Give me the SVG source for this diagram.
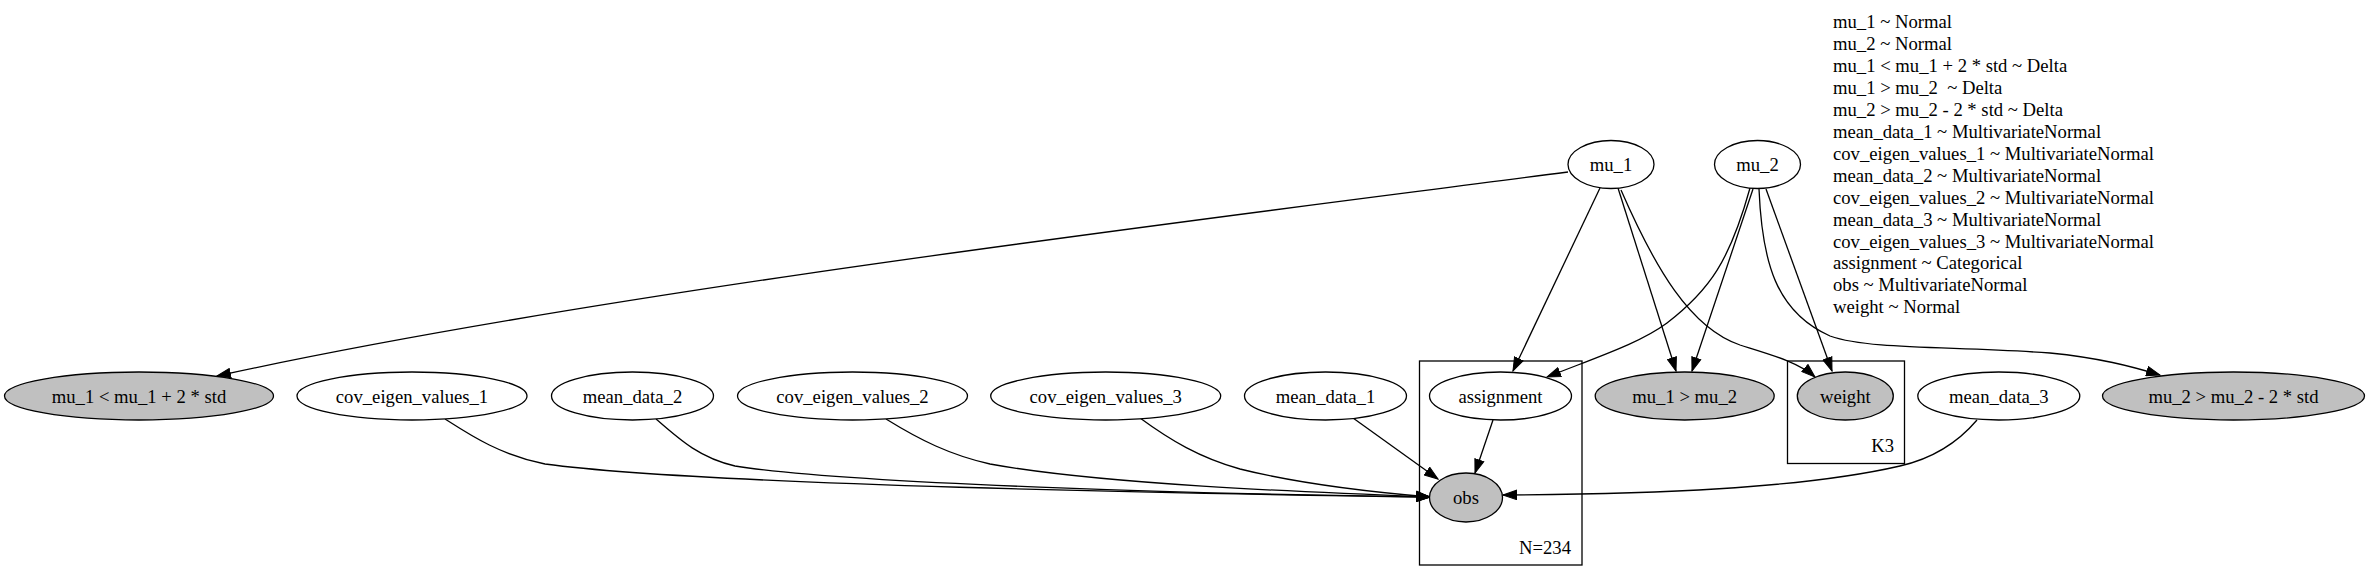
<svg xmlns="http://www.w3.org/2000/svg" width="2370" height="581" viewBox="0 0 2370 581">
<style>
  text { font-family: "Liberation Serif", "Times New Roman", serif; font-size: 18.67px; fill: #000; }
  .lbl { text-anchor: middle; }
  .node ellipse { stroke: #000; stroke-width: 1.3; fill: #fff; }
  .node.obsd ellipse { fill: #c0c0c0; }
  .cluster rect { fill: none; stroke: #000; stroke-width: 1.3; }
  .cl { text-anchor: end; }
  .edges path { fill: none; stroke: #000; stroke-width: 1.3; marker-end: url(#arr); }
  .legend text { white-space: pre; }
</style>
<defs>
  <marker id="arr" markerUnits="userSpaceOnUse" markerWidth="15" markerHeight="11" viewBox="0 0 15 11" refX="14" refY="5.5" orient="auto">
    <path d="M0.5,0.8 L14,5.5 L0.5,10.2 z" fill="#000" stroke="#000" stroke-width="1"/>
  </marker>
</defs>
<rect width="2370" height="581" fill="#fff"/>

<g id="cluster_N234" class="cluster">
  <rect x="1419.5" y="361" width="162.5" height="204"/>
  <text class="cl" x="1571" y="554">N=234</text>
</g>
<g id="cluster_K3" class="cluster">
  <rect x="1787.5" y="361" width="117" height="102.5"/>
  <text class="cl" x="1894" y="452">K3</text>
</g>

<g class="edges" id="edges">
  <path d="M1568,172 C1200,220 600,292 217,376"/>
  <path d="M1600,188 L1513,371"/>
  <path d="M1618,188 L1676,371"/>
  <path d="M1621,190 C1655,268 1690,328 1740,345 C1772,355 1798,362 1815,377"/>
  <path d="M1750,188 C1730,260 1710,290 1667,323 C1640,343 1600,356 1547,377"/>
  <path d="M1753,189 L1692,371"/>
  <path d="M1766,189 L1832,371"/>
  <path d="M1759,189 C1762,262 1776,312 1830,336 C1870,350 1950,346 2050,353 C2100,358 2130,366 2160,375"/>
  <path d="M1493,420 L1475,473"/>
  <path d="M1353,418 L1438,479"/>
  <path d="M1140,418 C1170,440 1200,458 1240,469 C1300,484 1370,492 1430,497"/>
  <path d="M886,419 C920,440 950,455 990,464 C1100,484 1300,492 1430,497"/>
  <path d="M656,419 C680,440 700,458 735,466 C850,484 1200,494 1430,497"/>
  <path d="M445,419 C470,435 500,455 545,464 C700,485 1200,494 1430,497"/>
  <path d="M1977,420 C1960,440 1935,458 1900,466 C1800,489 1650,494 1503,495"/>
</g>

<g id="mu_1" class="node"><ellipse cx="1611" cy="164.5" rx="43" ry="24"/><text class="lbl" x="1611" y="171">mu_1</text></g>
<g id="mu_2" class="node"><ellipse cx="1757.5" cy="164.5" rx="43" ry="24"/><text class="lbl" x="1757.5" y="171">mu_2</text></g>
<g id="mu_1_lt" class="node obsd"><ellipse cx="139" cy="396" rx="134.5" ry="24"/><text class="lbl" x="139" y="402.5">mu_1 &lt; mu_1 + 2 * std</text></g>
<g id="cov_eigen_values_1" class="node"><ellipse cx="412" cy="396" rx="115" ry="24"/><text class="lbl" x="412" y="402.5">cov_eigen_values_1</text></g>
<g id="mean_data_2" class="node"><ellipse cx="632.5" cy="396" rx="81" ry="24"/><text class="lbl" x="632.5" y="402.5">mean_data_2</text></g>
<g id="cov_eigen_values_2" class="node"><ellipse cx="852.5" cy="396" rx="115" ry="24"/><text class="lbl" x="852.5" y="402.5">cov_eigen_values_2</text></g>
<g id="cov_eigen_values_3" class="node"><ellipse cx="1105.7" cy="396" rx="115" ry="24"/><text class="lbl" x="1105.7" y="402.5">cov_eigen_values_3</text></g>
<g id="mean_data_1" class="node"><ellipse cx="1325.5" cy="396" rx="81" ry="24"/><text class="lbl" x="1325.5" y="402.5">mean_data_1</text></g>
<g id="assignment" class="node"><ellipse cx="1500.5" cy="396" rx="71" ry="24"/><text class="lbl" x="1500.5" y="402.5">assignment</text></g>
<g id="mu_1_gt_mu_2" class="node obsd"><ellipse cx="1684.7" cy="396" rx="89.5" ry="24"/><text class="lbl" x="1684.7" y="402.5">mu_1 &gt; mu_2</text></g>
<g id="weight" class="node obsd"><ellipse cx="1845.3" cy="396" rx="48" ry="24"/><text class="lbl" x="1845.3" y="402.5">weight</text></g>
<g id="mean_data_3" class="node"><ellipse cx="1998.8" cy="396" rx="81" ry="24"/><text class="lbl" x="1998.8" y="402.5">mean_data_3</text></g>
<g id="mu_2_gt" class="node obsd"><ellipse cx="2233.5" cy="396" rx="131" ry="24"/><text class="lbl" x="2233.5" y="402.5">mu_2 &gt; mu_2 - 2 * std</text></g>
<g id="obs" class="node obsd"><ellipse cx="1466" cy="497.5" rx="36.5" ry="24.5"/><text class="lbl" x="1466" y="504">obs</text></g>

<g id="legend" class="legend">
  <text x="1833" y="28.3">mu_1 ~ Normal</text>
  <text x="1833" y="50.2">mu_2 ~ Normal</text>
  <text x="1833" y="72.1">mu_1 &lt; mu_1 + 2 * std ~ Delta</text>
  <text x="1833" y="94.1">mu_1 &gt; mu_2  ~ Delta</text>
  <text x="1833" y="116">mu_2 &gt; mu_2 - 2 * std ~ Delta</text>
  <text x="1833" y="137.9">mean_data_1 ~ MultivariateNormal</text>
  <text x="1833" y="159.8">cov_eigen_values_1 ~ MultivariateNormal</text>
  <text x="1833" y="181.7">mean_data_2 ~ MultivariateNormal</text>
  <text x="1833" y="203.7">cov_eigen_values_2 ~ MultivariateNormal</text>
  <text x="1833" y="225.6">mean_data_3 ~ MultivariateNormal</text>
  <text x="1833" y="247.5">cov_eigen_values_3 ~ MultivariateNormal</text>
  <text x="1833" y="269.4">assignment ~ Categorical</text>
  <text x="1833" y="291.3">obs ~ MultivariateNormal</text>
  <text x="1833" y="313.3">weight ~ Normal</text>
</g>
</svg>
